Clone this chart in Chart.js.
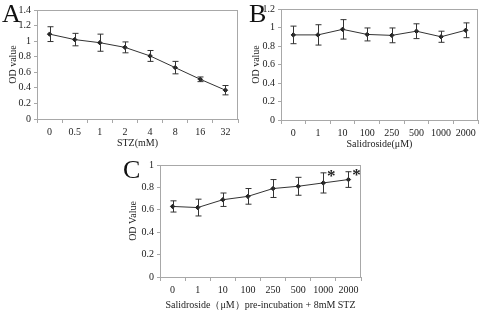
<!DOCTYPE html>
<html>
<head>
<meta charset="utf-8">
<script src="https://cdn.jsdelivr.net/npm/chart.js@4"></script>
<style>
  body { margin: 0; background: #fff; width: 483px; height: 313px; position: relative; overflow: hidden; }
  canvas { position: absolute; }
  .lbl { position: absolute; font-family: "Liberation Serif", serif; font-size: 26px; color: #111; line-height: 1; }
</style>
</head>
<body>
<canvas id="chartA" width="243" height="150" style="left:0;top:0"></canvas>
<canvas id="chartB" width="240" height="150" style="left:243px;top:0"></canvas>
<canvas id="chartC" width="250" height="163" style="left:120px;top:150px"></canvas>
<div class="lbl" style="left:2px;top:1px">A</div>
<div class="lbl" style="left:249px;top:1px">B</div>
<div class="lbl" style="left:123px;top:157px">C</div>
<script>
// panel A: STZ dose
const stzDoses = ["0", "0.5", "1", "2", "4", "8", "16", "32"];
const odA = [1.09, 1.02, 0.98, 0.92, 0.81, 0.66, 0.51, 0.37];
const errA = [0.095, 0.08, 0.11, 0.07, 0.07, 0.08, 0.03, 0.06];

// panel B: salidroside alone
const salDoses = ["0", "1", "10", "100", "250", "500", "1000", "2000"];
const odB = [0.92, 0.92, 0.98, 0.925, 0.915, 0.96, 0.90, 0.97];
const errB = [0.095, 0.11, 0.105, 0.07, 0.08, 0.08, 0.06, 0.08];

// panel C: salidroside pre-incubation + STZ
const odC = [0.63, 0.62, 0.69, 0.72, 0.79, 0.81, 0.84, 0.87];
const errC = [0.05, 0.075, 0.06, 0.07, 0.08, 0.08, 0.09, 0.07];
const starsC = ["1000", "2000"];

const serif = "'Liberation Serif', 'Times New Roman', serif";
const textCol = "#222";
const frameCol = "#a8a8a8";

// draws error bars + plot frame + asterisks
const extras = {
  id: 'extras',
  afterDatasetsDraw(chart, args, opts) {
    const c = chart.ctx, x = chart.scales.x, y = chart.scales.y;
    const a = chart.chartArea;
    c.save();
    c.strokeStyle = frameCol;
    c.lineWidth = 1;
    c.strokeRect(a.left + 0.5, a.top + 0.5, a.right - a.left - 1, a.bottom - a.top);
    c.strokeStyle = "#333";
    const vals = chart.data.datasets[0].data;
    opts.err.forEach((e, i) => {
      const px = Math.round(x.getPixelForValue(i)) + 0.5;
      const top = y.getPixelForValue(vals[i] + e);
      const bot = y.getPixelForValue(vals[i] - e);
      c.beginPath();
      c.moveTo(px, top); c.lineTo(px, bot);
      c.moveTo(px - 3, top); c.lineTo(px + 3, top);
      c.moveTo(px - 3, bot); c.lineTo(px + 3, bot);
      c.stroke();
    });
    if (opts.stars) {
      c.fillStyle = "#222";
      c.font = "bold 17px " + serif;
      c.textAlign = "center";
      opts.stars.forEach(lab => {
        const i = chart.data.labels.indexOf(lab);
        const px = x.getPixelForValue(i) + 8;
        const py = y.getPixelForValue(vals[i] + opts.err[i]) + 8;
        c.fillText("*", px, py);
      });
    }
    c.restore();
  }
};

function makeChart(id, labels, data, err, opt) {
  return new Chart(document.getElementById(id), {
    type: 'line',
    data: {
      labels: labels,
      datasets: [{
        data: data,
        borderColor: "#333",
        borderWidth: 1,
        pointStyle: 'rectRot',
        pointRadius: 2.2,
        pointBackgroundColor: "#222",
        pointBorderColor: "#222",
        tension: 0
      }]
    },
    options: {
      responsive: false,
      animation: false,
      layout: { padding: opt.pad },
      plugins: {
        legend: { display: false },
        tooltip: { enabled: false },
        extras: { err: err, stars: opt.stars }
      },
      scales: {
        x: {
          offset: true,
          grid: { offset: true, drawOnChartArea: false, tickLength: 4, color: frameCol },
          border: { color: frameCol },
          ticks: { color: textCol, font: { family: serif, size: 10 }, padding: 3, maxRotation: 0, autoSkip: false },
          title: { display: true, text: opt.xTitle, color: textCol, font: { family: serif, size: 10 }, padding: { top: 2, bottom: opt.xTitleBottom } },
          afterFit(s) { s.height = opt.xH; }
        },
        y: {
          min: 0, max: opt.yMax,
          grid: { drawOnChartArea: false, tickLength: 3, color: frameCol },
          border: { color: frameCol },
          ticks: {
            stepSize: opt.step, color: textCol, font: { family: serif, size: 10 }, padding: 3,
            callback: v => String(Math.round(v * 10) / 10)
          },
          title: { display: true, text: opt.yTitle, color: textCol, font: { family: serif, size: 10 }, padding: 0 },
          afterFit(s) { s.width = opt.yW; }
        }
      }
    },
    plugins: [extras]
  });
}

makeChart('chartA', stzDoses, odA, errA, {
  pad: { left: 7, top: 10, right: 3, bottom: 0 }, yW: 30, xH: 31, xTitleBottom: 1,
  yMax: 1.4, step: 0.2, xTitle: "STZ(mM)", yTitle: "OD value"
});
makeChart('chartB', salDoses, odB, errB, {
  pad: { left: 7, top: 9, right: 2, bottom: 0 }, yW: 31, xH: 30, xTitleBottom: 0,
  yMax: 1.2, step: 0.2, xTitle: "Salidroside(μM)", yTitle: "OD value"
});
makeChart('chartC', salDoses, odC, errC, {
  pad: { left: 7, top: 15, right: 9, bottom: 0 }, yW: 33, xH: 36, xTitleBottom: 2,
  yMax: 1, step: 0.1, xTitle: "Salidroside（μM）pre-incubation + 8mM STZ", yTitle: "OD Value",
  stars: starsC
});
</script>
</body>
</html>
